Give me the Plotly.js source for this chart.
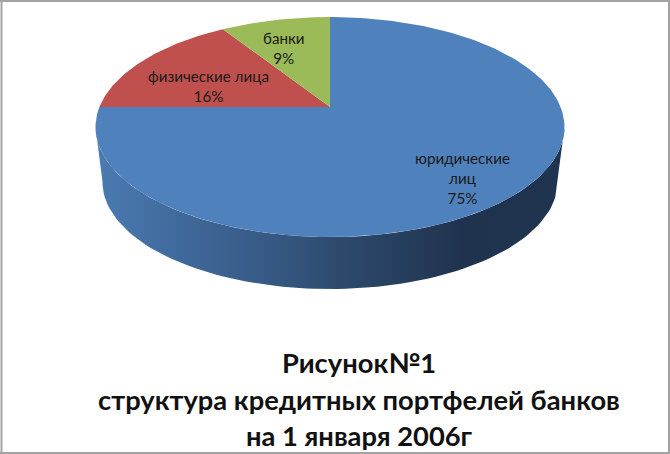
<!DOCTYPE html>
<html><head><meta charset="utf-8">
<script src="https://cdn.plot.ly/plotly-3.0.1.min.js"></script>
<style>html,body{margin:0;padding:0;background:#fff}#c{width:670px;height:454px}</style>
</head><body><div id="c"></div>
<script>
const categories = ['юридические<br>лиц', 'физические лица', 'банки'];
const shares = [75, 16, 9];
const sliceColors = ['#4f81bd', '#c0504d', '#9bbb59'];
const titleLines = ['Рисунок№1', 'структура кредитных портфелей банков', 'на 1 января 2006г'];

// Perspective projection of the pie disc on to the page (px)
const cx = 330, apexY = 107, aP = 230.6, bP = 106.36, k = 0.1818;
const rimCy = 127, rimA = 234.5, rimB = 110;
const baseCy = 182, baseA = 227.5, baseB = 107;
const labelPos = [[462, 178], [208, 86], [284, 48]];
const titlePos = [[359, 362], [359, 399], [359, 435]];

function rim(deg) {
  const t = deg * Math.PI / 180, X = Math.sin(t), Y = Math.cos(t), w = 1 + k * Y;
  return [cx + aP * X / w, apexY - bP * Y / w];
}
const traces = [];

// side wall
const sx = [], sy = [];
for (let a = 180; a >= 0; a -= 2) {
  const t = a * Math.PI / 180;
  sx.push(cx + rimA * Math.cos(t)); sy.push(rimCy + rimB * Math.sin(t));
}
for (let a = 0; a <= 180; a += 2) {
  const t = a * Math.PI / 180;
  sx.push(cx + baseA * Math.cos(t)); sy.push(baseCy + baseB * Math.sin(t));
}
sx.push(sx[0]); sy.push(sy[0]);
traces.push({
  type: 'scatter', mode: 'lines', x: sx, y: sy, fill: 'toself',
  line: {width: 0, color: 'rgba(0,0,0,0)'},
  fillcolor: '#2c4a70',
  fillgradient: {
    type: 'horizontal', start: 96, stop: 565,
    colorscale: [[0, '#4a7bb2'], [0.18, '#40699b'], [0.36, '#375a85'], [0.52, '#2d4a6d'], [0.78, '#1f334e'], [1, '#1f344f']]
  },
  hoverinfo: 'skip'
});

// top slices, clockwise from 12 o'clock
const total = shares.reduce((a, b) => a + b, 0);
let start = 0;
shares.forEach((v, i) => {
  const sweep = v / total * 360, xs = [cx], ys = [apexY];
  const n = Math.ceil(sweep);
  for (let j = 0; j <= n; j++) {
    const p = rim(start + sweep * j / n);
    xs.push(p[0]); ys.push(p[1]);
  }
  xs.push(cx); ys.push(apexY);
  traces.push({
    type: 'scatter', mode: 'lines', x: xs, y: ys, fill: 'toself',
    fillcolor: sliceColors[i], line: {width: 0, color: sliceColors[i]},
    name: categories[i], hoverinfo: 'skip'
  });
  start += sweep;
});

const font = 'Lato, "Noto Sans", sans-serif';
const annotations = [];
categories.forEach((c, i) => annotations.push({
  x: labelPos[i][0], y: labelPos[i][1], xref: 'x', yref: 'y', showarrow: false,
  text: c + '<br>' + shares[i] + '%', align: 'center',
  font: {family: font, size: 15.2, color: '#1a1a1a'}
}));
titleLines.forEach((t, i) => annotations.push({
  x: titlePos[i][0], y: titlePos[i][1], xref: 'x', yref: 'y', showarrow: false,
  text: '<b>' + t + '</b>',
  font: {family: font, size: 27.3, color: '#111'}
}));

const borderColor = '#a3a3a3';
const layout = {
  width: 670, height: 454, margin: {l: 0, r: 0, t: 0, b: 0},
  paper_bgcolor: '#fff', plot_bgcolor: '#fff', showlegend: false,
  xaxis: {range: [0, 670], visible: false, fixedrange: true},
  yaxis: {range: [454, 0], visible: false, fixedrange: true},
  annotations,
  shapes: [
    {type: 'line', xref: 'x', yref: 'y', x0: 0, x1: 670, y0: 1, y1: 1, line: {color: borderColor, width: 2}},
    {type: 'line', xref: 'x', yref: 'y', x0: 669, x1: 669, y0: 0, y1: 454, line: {color: borderColor, width: 2}},
    {type: 'line', xref: 'x', yref: 'y', x0: 0, x1: 670, y0: 453, y1: 453, line: {color: borderColor, width: 2}},
    {type: 'line', xref: 'x', yref: 'y', x0: 1.5, x1: 1.5, y0: 0, y1: 454, line: {color: borderColor, width: 2}}
  ]
};
Plotly.newPlot('c', traces, layout, {staticPlot: true, displayModeBar: false});
</script></body></html>
